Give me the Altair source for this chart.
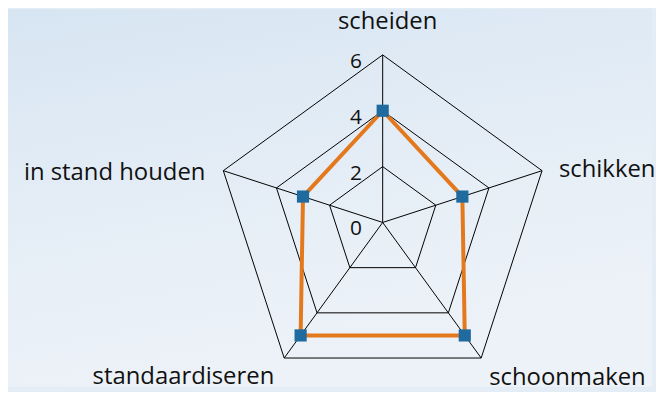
import altair as alt
import pandas as pd

# ---- data ----
categories = ["scheiden", "schikken", "schoonmaken", "standaardiseren", "in stand houden"]
values = [4, 3, 5, 5, 3]
grid_levels = [2, 4, 6]
tick_values = [0, 2, 4, 6]
tick_labels = ["0", "2", "4", "6"]
max_value = 6

# ---- layout ----
W, H = 648, 380
PX = 28.1                 # pixels per unit
CX, CY = 377, 214.6       # centre of the radar in chart pixels
x_domain = [-CX / PX, (W - CX) / PX]
y_domain = [-(H - CY) / PX, CY / PX]
n = len(categories)
FONT = "Open Sans"

xs = alt.Scale(domain=x_domain, nice=False, zero=False)
ys = alt.Scale(domain=y_domain, nice=False, zero=False)
ANG = f"PI/2 - 2*PI*datum.idx/{n}"


def polar(chart, rfield):
    return chart.transform_calculate(ang=ANG).transform_calculate(
        x=f"datum.{rfield}*cos(datum.ang)", y=f"datum.{rfield}*sin(datum.ang)"
    )


X = alt.X("x:Q", scale=xs, axis=None)
Y = alt.Y("y:Q", scale=ys, axis=None)

series_df = pd.DataFrame({
    "cat": categories + [categories[0]],
    "idx": list(range(n)) + [n],
    "value": values + [values[0]],
})
grid_df = pd.DataFrame(
    [{"level": lv, "idx": i} for lv in grid_levels for i in range(n + 1)]
)
spoke_df = pd.DataFrame({"idx": list(range(n)), "r": [max_value] * n, "zero": [0.0] * n})
label_df = pd.DataFrame({"cat": categories, "idx": list(range(n)), "r": [max_value] * n})
tick_df = pd.DataFrame({"v": tick_values, "label": tick_labels})

background = alt.Chart(pd.DataFrame({"a": [0]})).mark_rect(
    fill=alt.Gradient(
        gradient="linear",
        stops=[alt.GradientStop(color="#d7e5f2", offset=0),
               alt.GradientStop(color="#e4edf6", offset=0.5),
               alt.GradientStop(color="#edf2f8", offset=1)],
        x1=0, x2=0.3, y1=0, y2=1,
    ),
    stroke=None,
).encode(x=alt.value(0), x2=alt.value(W), y=alt.value(0), y2=alt.value(H))

grid = polar(alt.Chart(grid_df), "level").mark_line(
    color="black", strokeWidth=1
).encode(x=X, y=Y, detail="level:N", order="idx:Q")

spokes = polar(alt.Chart(spoke_df), "r").mark_rule(
    color="black", strokeWidth=1
).encode(x=alt.X("zero:Q", scale=xs, axis=None), y=alt.Y("zero:Q", scale=ys, axis=None),
         x2="x:Q", y2="y:Q")

line = polar(alt.Chart(series_df), "value").mark_line(
    color="#e3791c", strokeWidth=4, strokeJoin="miter"
).encode(x=X, y=Y, order="idx:Q")

points = polar(alt.Chart(series_df[series_df.idx < n]), "value").mark_square(
    color="#1f6a9e", size=150, opacity=1, filled=True
).encode(x=X, y=Y)

# label placement around the vertices: (align, dx, dy)
label_style = {
    0: ("center", 5, -26),
    1: ("left", 17, 6),
    2: ("left", 8, 27),
    3: ("right", -10, 26),
    4: ("right", -18, 9),
}
label_layers = []
for i, (al, dx, dy) in label_style.items():
    label_layers.append(
        polar(alt.Chart(label_df).transform_filter(f"datum.idx == {i}"), "r").mark_text(
            align=al, baseline="alphabetic", dx=dx, dy=dy, font=FONT, fontSize=24, color="#111111"
        ).encode(x=X, y=Y, text="cat:N")
    )

ticks = alt.Chart(tick_df).transform_calculate(x="0", y="datum.v").mark_text(
    align="right", baseline="alphabetic", dx=-21, dy=13, font=FONT, fontSize=21, color="#111111"
).encode(x=X, y=Y, text="label:N")

chart = alt.layer(background, grid, spokes, line, points, ticks, *label_layers).properties(
    width=W, height=H, padding=0, background="#e4edf6"
).configure_view(stroke=None)

chart.save("out.html", embed_options={"renderer": "svg", "actions": False})
